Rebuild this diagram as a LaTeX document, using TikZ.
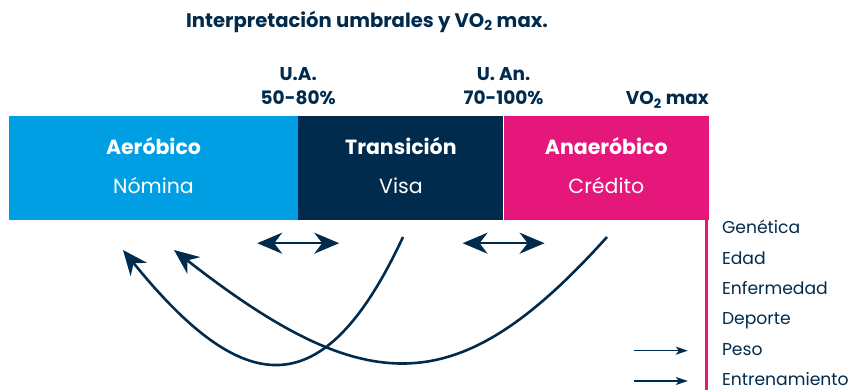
\documentclass[tikz,border=0pt]{standalone}
\usepackage{fontspec}
\setmainfont{Poppins}
\usetikzlibrary{arrows.meta,positioning}

\definecolor{azul}{HTML}{009FE3}
\definecolor{marino}{HTML}{012B4D}
\definecolor{rosa}{HTML}{E5177B}

\begin{document}
\begin{tikzpicture}[x=1pt,y=1pt,>=Stealth,node distance=30.3pt,
    zona/.style={rectangle, minimum height=104pt, inner sep=0pt, align=center,
      text=white, font=\fontsize{20.5}{39}\selectfont},
    umbral/.style={inner sep=0pt, align=center, text=marino,
      font=\fontsize{18.5}{23.5}\selectfont\bfseries},
    factor/.style={inner sep=0pt, text width=131pt, align=left, text=marino,
      text height=12pt, text depth=3pt, font=\fontsize{17.2}{20}\selectfont},
    curva/.style={marino, line width=2.6pt,
      -{Stealth[length=25pt,width=21pt,inset=8pt]}},
    doble/.style={marino, line width=2pt,
      {Stealth[length=25pt,width=21pt,inset=8pt]}-{Stealth[length=25pt,width=21pt,inset=8pt]}},
    corta/.style={marino, line width=1.4pt,
      -{Stealth[length=12pt,width=8pt,inset=3pt]}}]
  \useasboundingbox (0,0) rectangle (853,390);
  \node[font=\fontsize{19.6}{20}\selectfont\bfseries, text=marino] (titulo) at (367,368)
    {Interpretación umbrales y VO\textsubscript{2} max.};
  % barra de zonas
  \node[zona, fill=azul, minimum width=289pt] (aer) at (153.5,222) {\textbf{Aeróbico}\\Nómina\rule[-5pt]{0pt}{0pt}};
  \node[zona, fill=marino, minimum width=205pt] (trans) [right=0pt of aer] {\textbf{Transición}\\Visa\rule[-5pt]{0pt}{0pt}};
  \node[zona, fill=rosa, minimum width=205pt] (anaer) [right=0pt of trans] {\textbf{Anaeróbico}\\Crédito\rule[-5pt]{0pt}{0pt}};
  \node[umbral] (ua) [above=11pt of aer.north east] {U.A.\\50-80\%};
  \node[umbral] (uan) [above=11pt of trans.north east] {U. An.\\70-100\%};
  \node[umbral] (vo) [above left=11pt and 0pt of anaer.north east] {VO\smash{\textsubscript{2}} max};
  % linea y factores
  \coordinate (fondo) at (706.8,0);
  \draw[rosa, line width=3pt] (anaer.south east -| fondo) -- (fondo);
  \node[factor] (gen) at (787.5,160.5) {Genética};
  \node[factor] (edad) [below of = gen] {Edad};
  \node[factor] (enf) [below of = edad] {Enfermedad};
  \node[factor] (dep) [below of = enf] {Deporte};
  \node[factor] (peso) [below of = dep] {Peso};
  \node[factor] (entr) [below of = peso] {Entrenamiento};
  \coordinate (peso0) at ([xshift=-88pt]peso.west);
  \coordinate (entr0) at ([xshift=-88pt]entr.west);
  \draw[corta, shorten >=34pt] (peso0) -- (peso);
  \draw[corta, shorten >=34pt] (entr0) -- (entr);
  % flechas
  \coordinate (ua-a) at ([xshift=-41pt,yshift=-23pt]aer.south east);
  \coordinate (ua-b) at ([xshift=41pt,yshift=-23pt]aer.south east);
  \coordinate (uan-a) at ([xshift=-41pt,yshift=-23pt]trans.south east);
  \coordinate (uan-b) at ([xshift=41pt,yshift=-23pt]trans.south east);
  \draw[doble] (ua-a) -- (ua-b);
  \draw[doble] (uan-a) -- (uan-b);
  \coordinate (v1) at (403,153);
  \coordinate (n1) at (123,140);
  \coordinate (v2) at (607,153);
  \coordinate (n2) at (174,140);
  \draw[curva] (v1) to[out=-115, in=-51, distance=190pt] (n1);
  \draw[curva] (v2) to[out=-132, in=-38, out distance=221pt, in distance=247pt] (n2);
\end{tikzpicture}
\end{document}
